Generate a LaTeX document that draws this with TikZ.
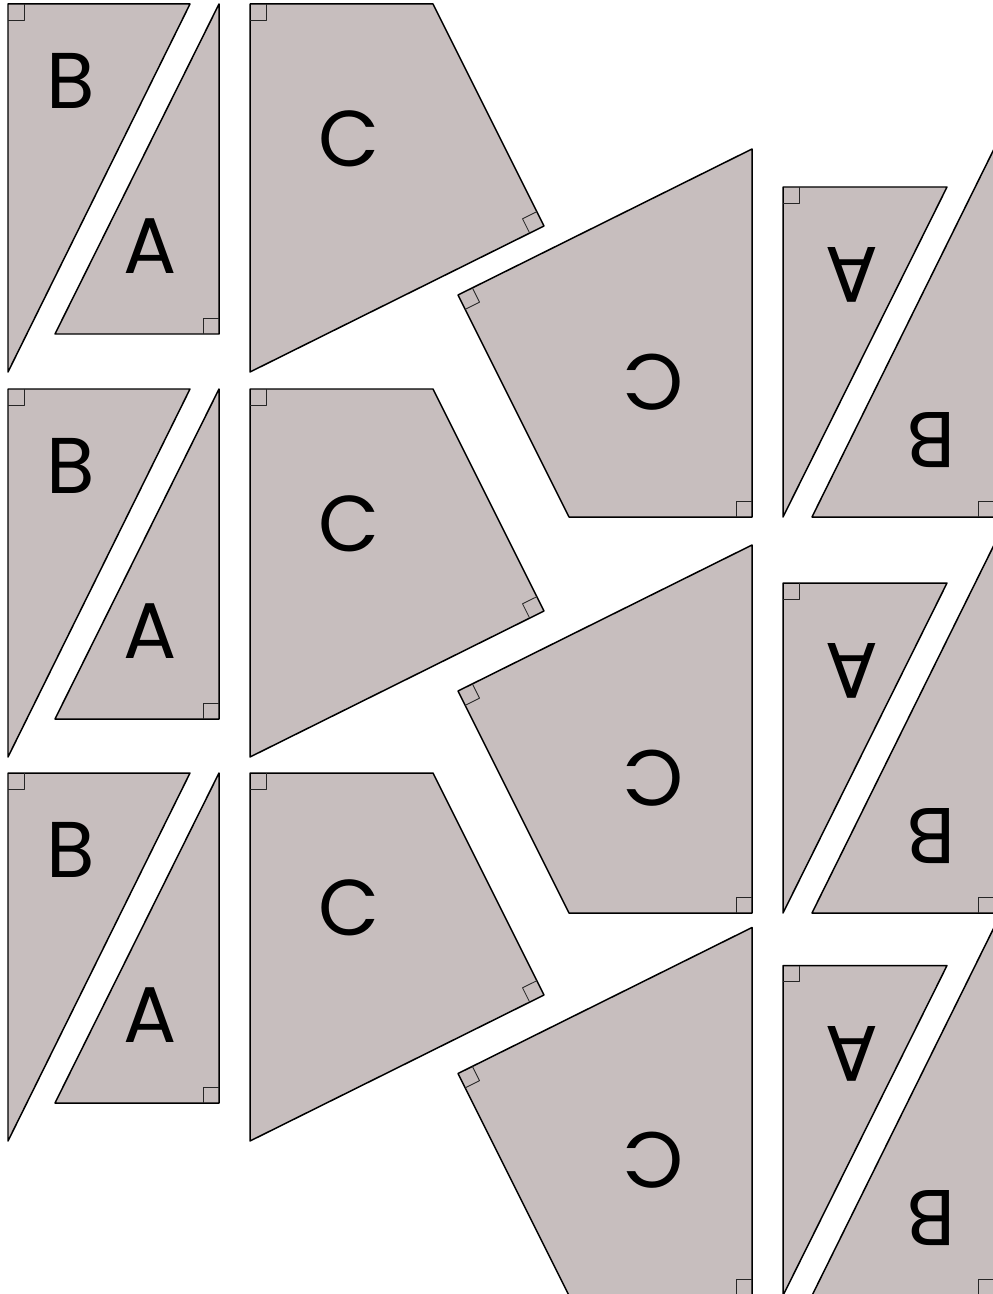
\documentclass[tikz,border=0pt]{standalone}
\usepackage{fontspec}
\setmainfont{Poppins}
\usetikzlibrary{calc}

\newcommand\ramark[3]{%
  \coordinate (m1) at ($(#2)!\marksize!(#1)$);
  \coordinate (m3) at ($(#2)!\marksize!(#3)$);
  \draw[rightmark] (m1) -- ($(m1)+(m3)-(#2)$) -- (m3);}

\begin{document}
\begin{tikzpicture}[x=0.02cm,y=0.02cm,line join=round]
  % Local definitions
  \def\marksize{0.32cm}

  % Colors
  \definecolor{piececolor}{RGB}{199,190,190}

  % Styles
  \tikzstyle{piece}=[draw=black,fill=piececolor,line width=0.85pt]
  \tikzstyle{rightmark}=[draw=black!85,line width=0.5pt]
  \tikzstyle{letter}=[font=\fontsize{45}{45}\selectfont,inner sep=0pt]

  % One set of pieces B, A, C
  \def\pieceset{%
    \coordinate (b1) at (0,0);
    \coordinate (b2) at (182,0);
    \coordinate (b3) at (0,-368);
    \coordinate (a1) at (211,0);
    \coordinate (a2) at (211,-330);
    \coordinate (a3) at (47,-330);
    \coordinate (c1) at (242,0);
    \coordinate (c2) at (425,0);
    \coordinate (c3) at (536,-222);
    \coordinate (c4) at (242,-368);
    \draw[piece] (b1) -- (b2) -- (b3) -- cycle;
    \draw[piece] (a1) -- (a2) -- (a3) -- cycle;
    \draw[piece] (c1) -- (c2) -- (c3) -- (c4) -- cycle;
    \ramark{b2}{b1}{b3}
    \ramark{a1}{a2}{a3}
    \ramark{c4}{c1}{c2}
    \ramark{c2}{c3}{c4}
    \node[letter] (labB) at (63,-77) {B};
    \node[letter] (labA) at (142,-242) {A};
    \node[letter] (labC) at (341,-135) {C};
  }

  % The graphic
  \useasboundingbox (0,0) rectangle (993,-1294);
  \clip (0,0) rectangle (993,-1294);

  % left column, upright
  \foreach \dy in {4,389,773} {
    \begin{scope}[shift={(8,-\dy)}]
      \pieceset
    \end{scope}
  }

  % right column, turned upside down
  \foreach \dy in {517,913,1295.5} {
    \begin{scope}[shift={(994,-\dy)},rotate=180,transform shape]
      \pieceset
    \end{scope}
  }

\end{tikzpicture}
\end{document}
